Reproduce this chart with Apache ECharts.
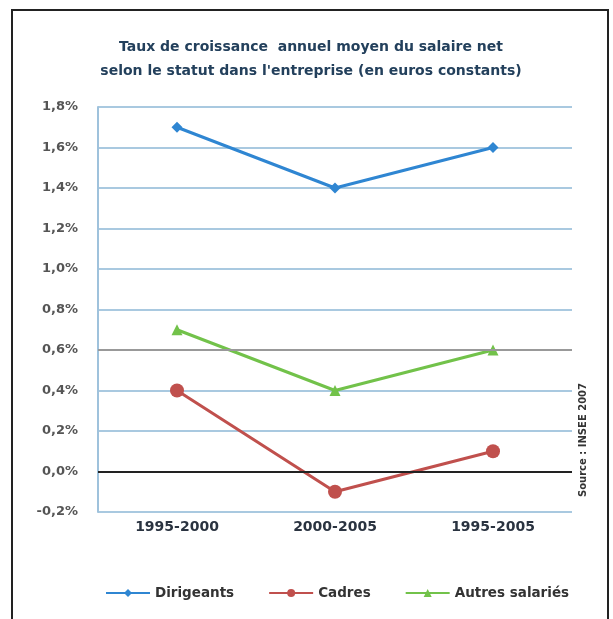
<!DOCTYPE html>
<html>
<head>
<meta charset="utf-8">
<script src="https://cdn.jsdelivr.net/npm/echarts@6/dist/echarts.min.js"></script>
<style>
  html, body { margin: 0; padding: 0; background: #fff; }
  #chart { width: 613px; height: 619px; }
</style>
</head>
<body>
<div id="chart"></div>
<script>
  // periodes et taux (%)
  const periodes = ['1995-2000', '2000-2005', '1995-2005'];
  const dirigeants = [1.7, 1.4, 1.6];
  const cadres = [0.4, -0.1, 0.1];
  const autres = [0.7, 0.4, 0.6];
  const yTicks = { min: -0.2, max: 1.8, step: 0.2 };

  const chart = echarts.init(document.getElementById('chart'));

  const fmt = v => v.toFixed(1).replace('.', ',') + '%';

  chart.setOption({
    animation: false,
    backgroundColor: '#fff',
    title: {
      text: 'Taux de croissance  annuel moyen du salaire net\nselon le statut dans l\'entreprise (en euros constants)',
      left: 306,
      top: 30,
      textAlign: 'center',
      textStyle: { fontFamily: 'DejaVu Sans', fontSize: 14, fontWeight: 'bold', color: '#23405c', lineHeight: 24 }
    },
    grid: { left: 98, right: 41, top: 107, bottom: 107 },
    legend: {
      bottom: 14,
      left: 100,
      itemGap: 34,
      itemWidth: 44,
      itemHeight: 10,
      textStyle: { fontFamily: 'DejaVu Sans', fontSize: 13.5, color: '#333', fontWeight: 'bold' },
      data: ['Dirigeants', 'Cadres', 'Autres salariés']
    },
    xAxis: {
      type: 'category',
      data: periodes,
      axisLine: { show: false },
      axisTick: { show: false },
      axisLabel: { fontFamily: 'DejaVu Sans', fontSize: 14, fontWeight: 'bold', color: '#2a3340', margin: 8 }
    },
    yAxis: {
      type: 'value',
      min: yTicks.min,
      max: yTicks.max,
      interval: yTicks.step,
      axisLine: { show: true, lineStyle: { color: '#9fc2dc', width: 2 } },
      axisTick: { show: false },
      splitLine: { lineStyle: { color: '#a9c9e0', width: 2 } },
      axisLabel: { formatter: fmt, fontFamily: 'DejaVu Sans', fontSize: 13, fontWeight: 'bold', color: '#555', margin: 20 }
    },
    series: [
      {
        name: 'Dirigeants', type: 'line', data: dirigeants,
        symbol: 'diamond', symbolSize: 11,
        lineStyle: { color: '#2f86d2', width: 3 },
        itemStyle: { color: '#2f86d2' },
        markLine: {
          silent: true, symbol: 'none', label: { show: false },
          data: [
            { yAxis: 0, lineStyle: { color: '#222', width: 2, type: 'solid' } },
            { yAxis: 0.6, lineStyle: { color: '#999', width: 2, type: 'solid' } }
          ]
        }
      },
      {
        name: 'Cadres', type: 'line', data: cadres,
        symbol: 'circle', symbolSize: 14,
        lineStyle: { color: '#c0504d', width: 3 },
        itemStyle: { color: '#c0504d' }
      },
      {
        name: 'Autres salariés', type: 'line', data: autres,
        symbol: 'triangle', symbolSize: 11,
        lineStyle: { color: '#72c24a', width: 3 },
        itemStyle: { color: '#72c24a' }
      }
    ],
    graphic: [
      {
        type: 'rect', silent: true,
        shape: { x: 12, y: 10, width: 596, height: 620 },
        style: { fill: 'none', stroke: '#222', lineWidth: 2 }
      },
      {
        type: 'text', silent: true,
        x: 583, y: 440, rotation: Math.PI / 2,
        style: {
          text: 'Source : INSEE 2007',
          fontFamily: 'DejaVu Sans', fontSize: 10, fontWeight: 'bold', fill: '#333',
          align: 'center', verticalAlign: 'middle'
        }
      }
    ]
  });
</script>
</body>
</html>
